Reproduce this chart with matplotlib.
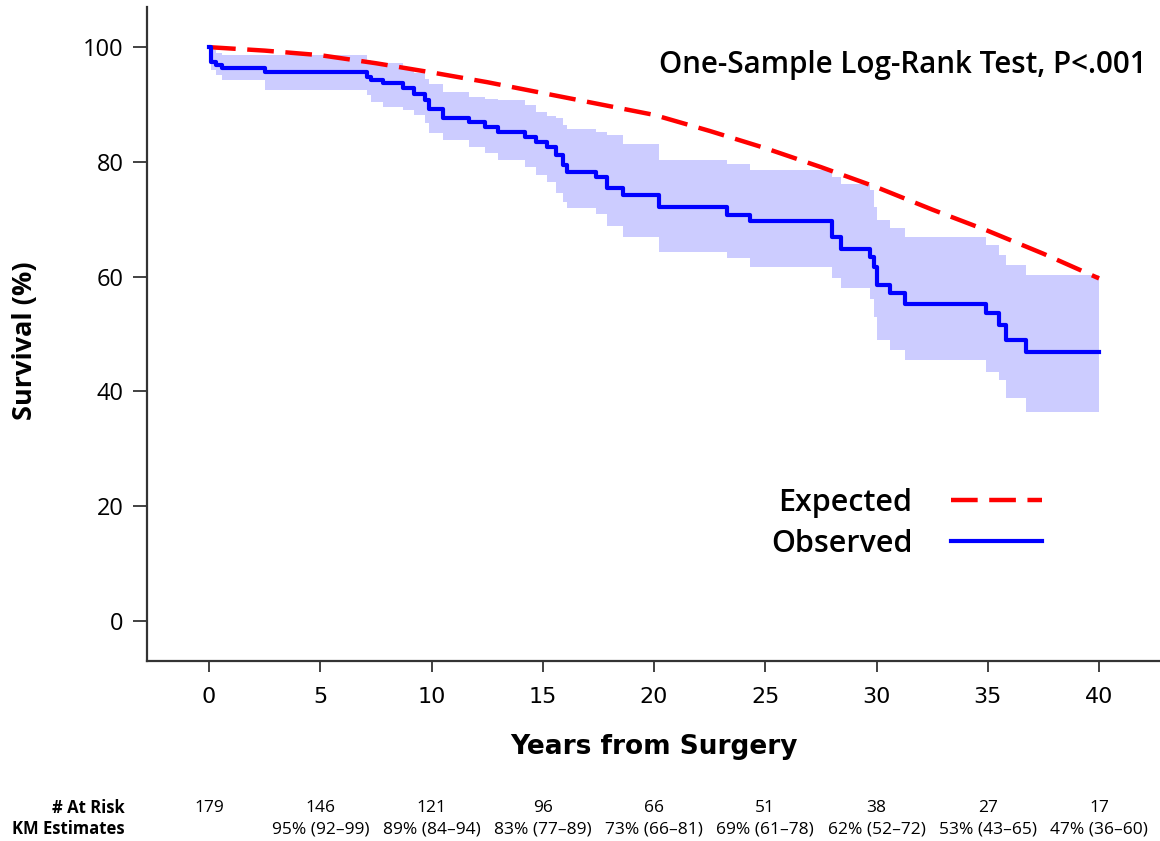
import matplotlib
matplotlib.use("Agg")
import matplotlib.pyplot as plt
import numpy as np

plt.rcParams['font.family'] = ['Open Sans', 'DejaVu Sans']

# Kaplan-Meier step data (years, % survival, 95% CI)
times = [0, 0.1, 0.3, 0.6, 2.5, 7.1, 7.3, 7.8, 8.7, 9.2, 9.7, 9.9, 10.5, 11.7,
         12.4, 13.0, 14.2, 14.7, 15.2, 15.6, 15.9, 16.1, 17.4, 17.9, 18.6, 20.2,
         23.3, 24.3, 28.0, 28.4, 29.7, 29.9, 30.0, 30.6, 31.3, 34.9, 35.5, 35.8,
         36.7, 40]
surv = [100, 97.4, 96.9, 96.3, 95.7, 94.8, 94.3, 93.7, 92.8, 91.9, 90.8, 89.3,
        87.6, 87.0, 86.1, 85.3, 84.4, 83.5, 82.6, 81.2, 79.4, 78.3, 77.4, 75.4,
        74.2, 72.1, 70.7, 69.7, 66.9, 64.9, 63.5, 61.7, 58.5, 57.1, 55.3, 53.6,
        51.5, 49.0, 46.9, 46.9]
lower = [100, 96.0, 95.1, 94.3, 92.5, 91.6, 90.5, 89.6, 89.0, 88.2, 86.7, 85.0,
         83.8, 82.6, 81.5, 80.3, 79.1, 77.7, 76.5, 74.5, 73.0, 71.9, 71.0, 68.8,
         67.0, 64.3, 63.2, 61.7, 59.7, 58.0, 56.2, 53.0, 49.0, 47.2, 45.5, 43.4,
         42.0, 38.8, 36.5, 36.5]
upper = [100, 99.5, 99.0, 98.6, 98.6, 97.7, 97.5, 97.2, 96.3, 95.5, 94.5, 93.5,
         92.2, 91.3, 91.0, 90.8, 89.9, 88.7, 88.0, 87.6, 86.5, 85.8, 85.2, 84.7,
         83.2, 80.4, 79.7, 78.6, 77.4, 76.2, 75.1, 72.2, 69.9, 68.5, 67.0, 65.5,
         63.8, 62.0, 60.3, 60.3]

# expected survival curve
exp_t = [0, 2.5, 5, 7.5, 10, 12.5, 15, 17.5, 20, 22.5, 25, 27.5, 30, 32.5, 35, 37.5, 40]
exp_s = [100, 99.4, 98.6, 97.2, 95.6, 93.9, 92.0, 90.1, 88.2, 85.4, 82.4, 79.1,
         75.6, 71.7, 68.0, 64.0, 59.7]

# at-risk table
tick_years = [0, 5, 10, 15, 20, 25, 30, 35, 40]
at_risk = ['179', '146', '121', '96', '66', '51', '38', '27', '17']
km_est = ['', '95% (92\u201399)', '89% (84\u201394)', '83% (77\u201389)', '73% (66\u201381)',
          '69% (61\u201378)', '62% (52\u201372)', '53% (43\u201365)', '47% (36\u201360)']

fig = plt.figure(figsize=(11.6, 8.41), dpi=100)
ax = fig.add_axes([147/1160, 1 - 661/841, 1 - 147/1160, (661 - 7)/841])

ax.fill_between(times, lower, upper, step='post', color='#CCCCFF', linewidth=0)
exp_line, = ax.plot(exp_t, exp_s, color='#FF0000', lw=3.2, dashes=(6, 2.6),
                    label='Expected')
obs_line, = ax.step(times, surv, where='post', color='#0000FF', lw=3,
                    label='Observed')

ax.set_xlim(-2.79, 42.74)
ax.set_ylim(-6.97, 107.0)
ax.set_xticks(tick_years)
ax.set_yticks([0, 20, 40, 60, 80, 100])
for s in ['top', 'right']:
    ax.spines[s].set_visible(False)
for s in ['left', 'bottom']:
    ax.spines[s].set_linewidth(1.6)
    ax.spines[s].set_color('#333333')
ax.tick_params(axis='y', direction='out', length=10, width=1.3, color='#333333',
               labelsize=17, pad=7)
ax.tick_params(axis='x', direction='out', length=8, width=1.3, color='#333333',
               labelsize=16, pad=11)
for lab in ax.get_xticklabels():
    lab.set_family('DejaVu Sans')

ax.set_xlabel('Years from Surgery', fontsize=19, fontweight='bold', labelpad=19,
              family='DejaVu Sans')
ax.set_ylabel('Survival (%)', fontsize=19.5, fontweight='bold')
ax.yaxis.set_label_coords(-0.108, 0.49)

ax.text(0.987, 0.911, 'One-Sample Log-Rank Test, P<.001', transform=ax.transAxes,
        ha='right', va='center', fontsize=21.3, fontweight='semibold')

leg = ax.legend(handles=[exp_line, obs_line], loc='center right',
                bbox_to_anchor=(0.896, 0.21), markerfirst=False, frameon=False,
                fontsize=22, handlelength=3.0, handletextpad=1.25, labelspacing=0.36,
                borderaxespad=0)
for t in leg.get_texts():
    t.set_fontweight('semibold')

trans = ax.get_xaxis_transform()
y1 = (661 - 808) / (661 - 7)
y2 = (661 - 829) / (661 - 7)
fig.text(125/1160, 1 - 808/841, '# At Risk', ha='right', va='center', fontsize=12,
         fontweight='bold')
fig.text(125/1160, 1 - 829/841, 'KM Estimates', ha='right', va='center', fontsize=12,
         fontweight='bold')
for yr, n, km in zip(tick_years, at_risk, km_est):
    ax.text(yr, y1, n, transform=trans, ha='center', va='center', fontsize=12.5,
            clip_on=False)
    ax.text(yr, y2, km, transform=trans, ha='center', va='center', fontsize=12.5,
            clip_on=False)

fig.savefig('out.png', dpi=100)
